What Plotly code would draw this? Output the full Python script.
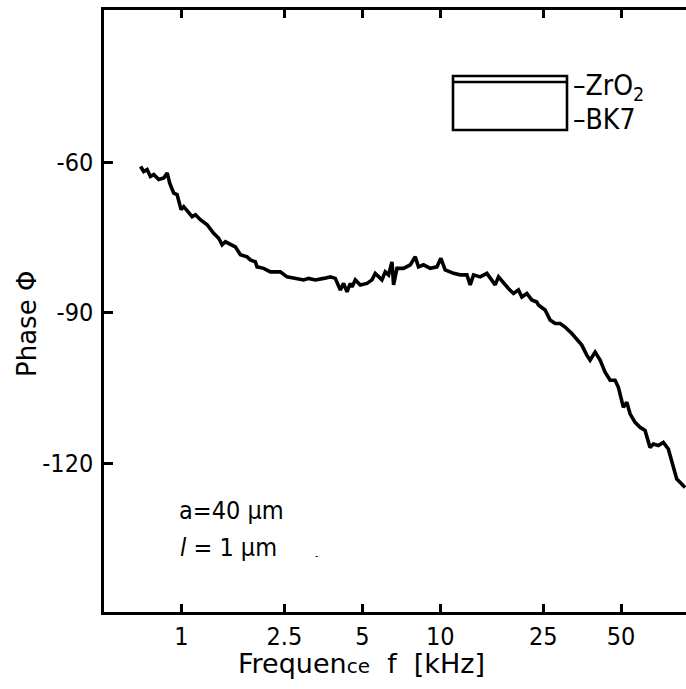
import plotly.graph_objects as go

# Data (frequency in kHz, phase in degrees)
freq_khz = [0.695, 0.715, 0.737, 0.759, 0.782, 0.817, 0.855, 0.881, 0.901, 0.921,
            0.934, 0.962, 0.997, 1.021, 1.067, 1.100, 1.133, 1.184, 1.257, 1.332,
            1.393, 1.436, 1.479, 1.546, 1.616, 1.690, 1.794, 1.847, 1.931, 1.960,
            2.078, 2.206, 2.342, 2.411, 2.559, 2.797, 2.967, 3.101, 3.292, 3.544,
            3.761, 3.932, 4.049, 4.111, 4.233, 4.364, 4.494, 4.562, 4.698, 4.911,
            5.212, 5.449, 5.610, 5.778, 5.955, 6.133, 6.316, 6.509, 6.603, 6.805,
            7.216, 7.659, 8.007, 8.245, 8.620, 9.150, 9.712, 10.06, 10.45, 11.26,
            11.95, 12.68, 13.06, 13.45, 14.27, 15.15, 15.60, 16.31, 16.80, 17.56,
            18.35, 19.19, 20.06, 20.68, 21.61, 22.59, 23.62, 23.96, 25.43, 26.59,
            27.80, 29.06, 30.38, 32.25, 33.72, 35.25, 36.85, 37.95, 39.68, 41.48,
            43.37, 45.34, 47.40, 48.81, 51.03, 52.59, 54.16, 56.62, 59.19, 61.88,
            64.69, 66.63, 69.66, 72.82, 76.13, 79.59, 82.03, 85.77, 88.31]
phase_deg = [-60.9, -61.9, -61.5, -62.9, -62.5, -63.5, -63.2, -62.2, -64.2, -65.2,
             -66.2, -66.5, -69.5, -68.9, -70.2, -70.9, -70.5, -71.5, -72.5, -74.2,
             -75.2, -76.5, -75.9, -76.5, -76.9, -78.5, -78.9, -79.5, -79.9, -80.9,
             -81.2, -81.9, -81.9, -81.9, -82.9, -83.2, -83.5, -83.2, -83.5, -83.2,
             -82.9, -83.2, -84.5, -85.5, -84.2, -85.9, -84.2, -84.9, -83.5, -84.5,
             -84.2, -83.5, -82.2, -82.9, -83.5, -81.9, -82.5, -79.9, -84.5, -81.2,
             -81.2, -80.5, -78.9, -80.9, -80.5, -81.2, -80.9, -79.2, -81.5, -82.2,
             -82.5, -82.5, -84.5, -82.5, -82.9, -82.2, -83.2, -84.5, -82.9, -84.2,
             -85.2, -86.2, -85.5, -86.9, -86.2, -87.5, -87.9, -88.5, -89.5, -91.5,
             -92.2, -92.2, -92.9, -94.2, -95.5, -96.5, -98.5, -99.5, -97.9, -99.5,
             -101.9, -103.5, -103.5, -104.9, -108.9, -107.9, -110.2, -111.9, -112.9, -113.5,
             -116.9, -116.2, -116.5, -115.9, -117.2, -120.9, -123.2, -124.2, -124.9]

x_tick_vals = [1, 2.5, 5, 10, 25, 50]
x_tick_text = ["1", "2.5", "5", "10", "25", "50"]
y_tick_vals = [-60, -90, -120]
y_tick_text = ["-60", "-90", "-120"]

COND = "DejaVu Sans Condensed, Liberation Sans Narrow, sans-serif"
REG = "DejaVu Sans, Liberation Sans, sans-serif"
W, H = 686, 689
L, R, T, B = 104, 686, 10, 612


def px(x):
    return (x - L) / (R - L)


def py(y):
    return (B - y) / (B - T)


fig = go.Figure()
fig.add_trace(go.Scatter(x=freq_khz, y=phase_deg, mode="lines",
                         line=dict(color="black", width=3.6), showlegend=False,
                         hoverinfo="skip"))

fig.update_layout(
    width=W, height=H,
    margin=dict(l=L, r=W - R, t=T, b=H - B, pad=0),
    paper_bgcolor="white", plot_bgcolor="white",
    font=dict(family=COND, size=25, color="black"),
    showlegend=False,
)

fig.update_xaxes(type="log", range=[-0.2992, 1.9498],
                 tickvals=x_tick_vals, ticktext=x_tick_text,
                 ticks="inside", ticklen=8, tickwidth=2.5, tickcolor="black",
                 showline=True, linewidth=2.5, linecolor="black", mirror="ticks",
                 showgrid=False, zeroline=False, automargin=False,
                 tickfont=dict(size=25, family=COND))
fig.update_yaxes(range=[-149.7, -29.7],
                 tickvals=y_tick_vals, ticktext=y_tick_text,
                 ticks="inside", ticklen=9, tickwidth=2.5, tickcolor="black",
                 showline=True, linewidth=2.5, linecolor="black", mirror=False,
                 showgrid=False, zeroline=False, automargin=False,
                 ticklabelstandoff=3,
                 tickfont=dict(size=25, family=COND))

# Sample sketch (ZrO2 layer on BK7)
fig.add_shape(type="rect", xref="paper", yref="paper",
              x0=px(453), x1=px(567), y0=py(130), y1=py(76),
              line=dict(color="black", width=2.6))
fig.add_shape(type="line", xref="paper", yref="paper",
              x0=px(453), x1=px(567), y0=py(82), y1=py(82),
              line=dict(color="black", width=2.6))

annotations = [
    dict(text="–ZrO<sub>2</sub>", x=px(571), y=py(88), xanchor="left", yanchor="middle",
         font=dict(size=28, family=COND, color="black")),
    dict(text="–BK7", x=px(571), y=py(120), xanchor="left", yanchor="middle",
         font=dict(size=28, family=COND, color="black")),
    dict(text="a=40 µm", x=px(177), y=py(510), xanchor="left", yanchor="middle"),
    dict(text="<i>l</i> = 1 µm", x=px(178), y=py(547), xanchor="left", yanchor="middle"),
    dict(text="-", x=px(316), y=py(555), xanchor="center", yanchor="middle",
         font=dict(size=10, family=COND, color="black")),
    dict(text="Frequen<span style='font-size:20px'>ce</span>\u00a0\u00a0f\u00a0\u00a0[kHz]",
         x=px(236), y=py(664), xanchor="left", yanchor="middle",
         font=dict(size=27, family=REG, color="black")),
    dict(text="Phase Φ", x=px(27), y=py(324), xanchor="center", yanchor="middle",
         textangle=-90, font=dict(size=26, family=REG, color="black")),
]
for a in annotations:
    a.setdefault("xref", "paper")
    a.setdefault("yref", "paper")
    a.setdefault("showarrow", False)
    a.setdefault("font", dict(size=25, family=COND, color="black"))
    fig.add_annotation(**a)

fig.write_html("out.html", config={"displayModeBar": False},
               post_script="document.body.style.margin='0';document.body.style.padding='0';")
